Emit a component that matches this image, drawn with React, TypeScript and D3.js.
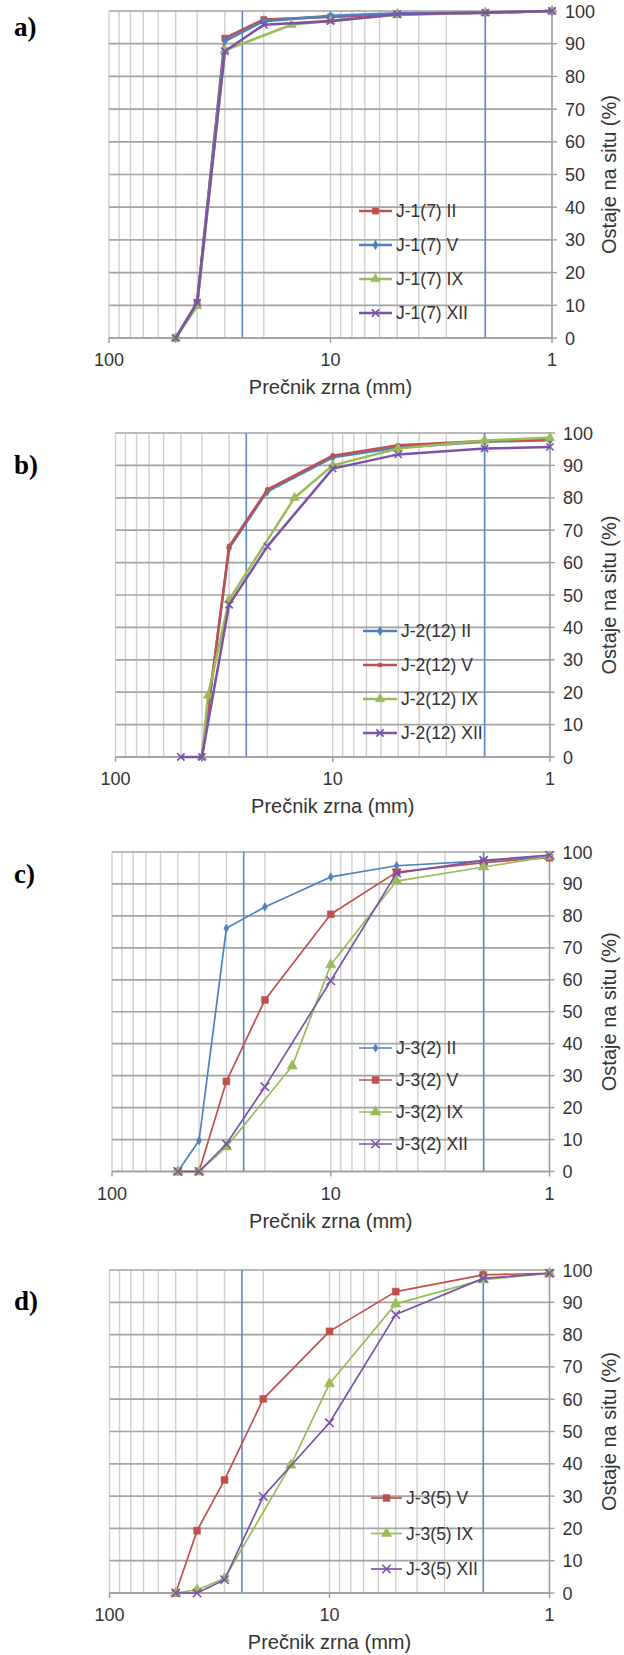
import React from "react";
import * as d3 from "d3";

// ---------- DATA ----------
const xTickLabels = [100, 10, 1];
const blueLines = [25, 2];

// Panel a
const aSieves = [50, 40, 30, 20, 10, 5, 2, 1];
const aSievesIX = [50, 40, 30, 15, 10, 5, 2, 1];
const aII = [0, 10.8, 91.7, 97.4, 98.2, 99, 99.5, 100];
const aV = [0, 10.5, 90.8, 96.9, 98.5, 99.3, 99.5, 100];
const aIX = [0, 9.8, 88, 95.8, 97, 98.8, 99.5, 100];
const aXII = [0, 10.8, 87.7, 95.8, 96.9, 99, 99.5, 100];

// Panel b
const bSieves = [40, 30, 20, 10, 5, 2, 1];
const bSievesIX = [40, 37.5, 30, 15, 10, 5, 2, 1];
const bSievesXII = [50, 40, 30, 20, 10, 5, 2, 1];
const bII = [0, 64.5, 82, 92.5, 95.5, 97.3, 97.8];
const bV = [0, 65, 82.5, 93, 96.2, 97.5, 98];
const bIX = [0, 19, 48.5, 80, 90, 95.2, 97.7, 98.5];
const bXII = [0, 0, 47, 65, 89, 93.4, 95.2, 95.7];

// Panel c
const cSieves = [50, 40, 30, 20, 10, 5, 2, 1];
const cSievesIX = [50, 40, 30, 15, 10, 5, 2, 1];
const cII = [0, 9.7, 76.1, 82.8, 92.2, 95.7, 97.2, 98.6];
const cV = [0, 0, 28.2, 53.7, 80.5, 93.7, 96.7, 98.2];
const cIX = [0, 0, 7.7, 33, 64.7, 90.9, 95.3, 98.6];
const cXII = [0, 0, 8.6, 26.5, 59.7, 93.4, 97.4, 99];

// Panel d
const dSieves = [50, 40, 30, 20, 10, 5, 2, 1];
const dSievesIX = [50, 40, 30, 15, 10, 5, 2, 1];
const dV = [0, 19.3, 35, 60.1, 81, 93.3, 98.5, 99];
const dIX = [0, 1, 4.5, 39.6, 64.8, 89.5, 97, 99];
const dXII = [0, 0, 4.1, 29.9, 52.7, 86.2, 97.4, 99];

const RED = "#c0504d";
const BLUE = "#4f81bd";
const GREEN = "#9bbb59";
const PURPLE = "#7b52a8";

const SANS = "'Liberation Sans', Arial, sans-serif";

type Series = { name: string; xs: number[]; ys: number[]; color: string; marker: string; size: number };

const panels = [
  {
    label: "a)", left: 109, right: 552, top: 11, bottom: 338, labelY: 36, lw: 2.6,
    legend: { x1: 359, x2: 392, y0: 211, dy: 34 },
    series: [
      { name: "J-1(7) II", xs: aSieves, ys: aII, color: RED, marker: "square", size: 38 },
      { name: "J-1(7) V", xs: aSieves, ys: aV, color: BLUE, marker: "diamond", size: 26 },
      { name: "J-1(7) IX", xs: aSievesIX, ys: aIX, color: GREEN, marker: "triangle", size: 40 },
      { name: "J-1(7) XII", xs: aSieves, ys: aXII, color: PURPLE, marker: "x", size: 36 },
    ] as Series[],
  },
  {
    label: "b)", left: 115.5, right: 550, top: 433, bottom: 757, labelY: 474, lw: 2.5,
    legend: { x1: 363, x2: 397, y0: 631, dy: 34 },
    series: [
      { name: "J-2(12) II", xs: bSieves, ys: bII, color: BLUE, marker: "diamond", size: 26 },
      { name: "J-2(12) V", xs: bSieves, ys: bV, color: RED, marker: "square", size: 14 },
      { name: "J-2(12) IX", xs: bSievesIX, ys: bIX, color: GREEN, marker: "triangle", size: 40 },
      { name: "J-2(12) XII", xs: bSievesXII, ys: bXII, color: PURPLE, marker: "x", size: 36 },
    ] as Series[],
  },
  {
    label: "c)", left: 112, right: 549.5, top: 852, bottom: 1171.5, labelY: 883, lw: 1.7,
    legend: { x1: 359, x2: 392, y0: 1048, dy: 32 },
    series: [
      { name: "J-3(2) II", xs: cSieves, ys: cII, color: BLUE, marker: "diamond", size: 22 },
      { name: "J-3(2) V", xs: cSieves, ys: cV, color: RED, marker: "square", size: 48 },
      { name: "J-3(2) IX", xs: cSievesIX, ys: cIX, color: GREEN, marker: "triangle", size: 48 },
      { name: "J-3(2) XII", xs: cSieves, ys: cXII, color: PURPLE, marker: "x", size: 48 },
    ] as Series[],
  },
  {
    label: "d)", left: 109.5, right: 549.5, top: 1270, bottom: 1593, labelY: 1310, lw: 1.7,
    legend: { x1: 371, x2: 402, y0: 1498, dy: 35.5 },
    series: [
      { name: "J-3(5) V", xs: dSieves, ys: dV, color: RED, marker: "square", size: 48 },
      { name: "J-3(5) IX", xs: dSievesIX, ys: dIX, color: GREEN, marker: "triangle", size: 48 },
      { name: "J-3(5) XII", xs: dSieves, ys: dXII, color: PURPLE, marker: "x", size: 48 },
    ] as Series[],
  },
];

function symbolFor(m: string) {
  if (m === "square") return d3.symbolSquare;
  if (m === "diamond") return d3.symbolDiamond;
  if (m === "triangle") return d3.symbolTriangle;
  return d3.symbolX;
}

function Marker({ s, cx, cy }: { s: Series; cx: number; cy: number }) {
  const path = d3.symbol().type(symbolFor(s.marker) as any).size(s.size)() || "";
  const isX = s.marker === "x";
  return (
    <path
      d={path}
      transform={`translate(${cx},${cy})`}
      fill={isX ? "none" : s.color}
      stroke={s.color}
      strokeWidth={isX ? 1.6 : 0.5}
    />
  );
}

function Panel({ p }: { p: (typeof panels)[number] }) {
  const x = d3.scaleLog().domain([100, 1]).range([p.left, p.right]);
  const y = d3.scaleLinear().domain([0, 100]).range([p.bottom, p.top]);
  const xGrid = x.ticks();
  const yGrid = y.ticks(10);
  const cy = (p.top + p.bottom) / 2;
  const cx = (p.left + p.right) / 2;
  return (
    <g>
      {xGrid.map((t) => (
        <line key={"vx" + t} x1={x(t)} x2={x(t)} y1={p.top} y2={p.bottom} stroke="#d0d0d0" strokeWidth={1.4} />
      ))}
      {yGrid.map((t) => (
        <line key={"hy" + t} x1={p.left} x2={p.right} y1={y(t)} y2={y(t)} stroke="#a3a3a3" strokeWidth={1.7} />
      ))}
      {blueLines.map((t) => (
        <line key={"bl" + t} x1={x(t)} x2={x(t)} y1={p.top} y2={p.bottom} stroke="#5a8ac6" strokeWidth={1.6} />
      ))}
      {/* axes */}
      <line x1={p.right} x2={p.right} y1={p.top} y2={p.bottom} stroke="#9c9c9c" strokeWidth={1.4} />
      <line x1={p.left} x2={p.right} y1={p.bottom} y2={p.bottom} stroke="#9c9c9c" strokeWidth={1.4} />
      {yGrid.map((t) => (
        <line key={"ty" + t} x1={p.right} x2={p.right + 5} y1={y(t)} y2={y(t)} stroke="#9c9c9c" strokeWidth={1.4} />
      ))}
      {xTickLabels.map((t) => (
        <line key={"tx" + t} x1={x(t)} x2={x(t)} y1={p.bottom} y2={p.bottom + 5} stroke="#9c9c9c" strokeWidth={1.4} />
      ))}
      {yGrid.map((t) => (
        <text key={"ly" + t} x={p.right + 13} y={y(t) + 6.5} fontSize={18} fontFamily={SANS} fill="#333">
          {t}
        </text>
      ))}
      {xTickLabels.map((t) => (
        <text key={"lx" + t} x={x(t)} y={p.bottom + 28} fontSize={18} fontFamily={SANS} fill="#333" textAnchor="middle">
          {t}
        </text>
      ))}
      <text x={cx} y={p.bottom + 56} fontSize={20} fontFamily={SANS} fill="#333" textAnchor="middle">
        Prečnik zrna (mm)
      </text>
      <text
        transform={`translate(${616},${cy}) rotate(-90)`}
        fontSize={20}
        fontFamily={SANS}
        fill="#333"
        textAnchor="middle"
      >
        Ostaje na situ (%)
      </text>
      <text x={14} y={p.labelY} fontSize={27} fontWeight="bold" fontFamily="'Liberation Serif', 'Times New Roman', serif" fill="#000">
        {p.label}
      </text>
      {/* series */}
      {p.series.map((s) => {
        const pts = s.xs.map((v, i) => [v, s.ys[i]] as [number, number]);
        const line = d3
          .line<[number, number]>()
          .x((d) => x(d[0]))
          .y((d) => y(d[1]));
        return (
          <g key={s.name}>
            <path d={line(pts) || ""} fill="none" stroke={s.color} strokeWidth={p.lw} strokeLinejoin="round" />
            {pts.map((d, i) => (
              <Marker key={i} s={s} cx={x(d[0])} cy={y(d[1])} />
            ))}
          </g>
        );
      })}
      {/* legend */}
      {p.series.map((s, i) => {
        const ly = p.legend.y0 + i * p.legend.dy;
        return (
          <g key={"lg" + s.name}>
            <line x1={p.legend.x1} x2={p.legend.x2} y1={ly} y2={ly} stroke={s.color} strokeWidth={p.lw} />
            <Marker s={s} cx={(p.legend.x1 + p.legend.x2) / 2} cy={ly} />
            <text x={p.legend.x2 + 4} y={ly + 6} fontSize={17.5} fontFamily={SANS} fill="#333">
              {s.name}
            </text>
          </g>
        );
      })}
    </g>
  );
}

export default function App() {
  return (
    <svg
      width={624}
      height={1655}
      viewBox="0 0 624 1655"
      style={{ position: "absolute", left: 0, top: 0, background: "#fff" }}
    >
      <rect x={0} y={0} width={624} height={1655} fill="#fff" />
      {panels.map((p) => (
        <Panel key={p.label} p={p} />
      ))}
    </svg>
  );
}
